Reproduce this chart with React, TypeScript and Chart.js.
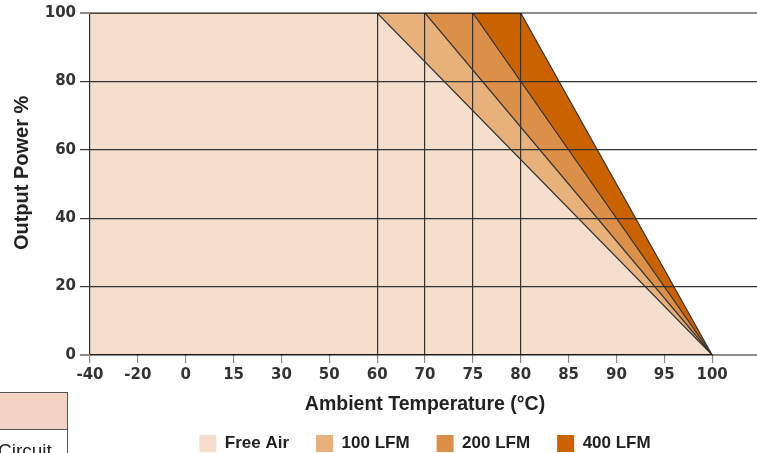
import React, { useEffect, useRef } from 'react';
import { Chart, registerables } from 'chart.js';

Chart.register(...registerables);

// ---- data ----
const categories = ['-40', '-20', '0', '15', '30', '50', '60', '70', '75', '80', '85', '90', '95', '100', ''];
const seriesNames = ['Free Air', '100 LFM', '200 LFM', '400 LFM'];
const freeAir = [{ x: '-40', y: 100 }, { x: '60', y: 100 }, { x: '100', y: 0 }];
const lfm100 = [{ x: '-40', y: 100 }, { x: '70', y: 100 }, { x: '100', y: 0 }];
const lfm200 = [{ x: '-40', y: 100 }, { x: '75', y: 100 }, { x: '100', y: 0 }];
const lfm400 = [{ x: '-40', y: 100 }, { x: '80', y: 100 }, { x: '100', y: 0 }];
const baseline = [{ x: '-40', y: 0 }, { x: '100', y: 0 }];
const markedTemps = ['-40', '60', '70', '75', '80'];
const yMin = 0;
const yMax = 100;
const yStep = 20;

const fillColors = ['#f5decc', '#e8b07a', '#db8f48', '#cb6200'];
const lineColor = '#333333';
const softLine = 'rgba(0,0,0,0.45)';

export default function App() {
  const canvasRef = useRef<HTMLCanvasElement | null>(null);

  useEffect(() => {
    const canvas = canvasRef.current;
    if (!canvas) return;
    const series = [freeAir, lfm100, lfm200, lfm400];
    const datasets: any[] = series.map((d, i) => ({
      label: seriesNames[i],
      data: d,
      backgroundColor: fillColors[i],
      borderColor: lineColor,
      borderWidth: 1.2,
      fill: 'origin',
      pointRadius: 0,
      tension: 0,
    }));
    datasets.push({
      label: '',
      data: baseline,
      borderColor: lineColor,
      borderWidth: 2,
      fill: false,
      pointRadius: 0,
      order: -1,
    });

    const chart = new Chart(canvas, {
      type: 'line',
      data: { labels: categories, datasets },
      options: {
        animation: false,
        responsive: false,
        devicePixelRatio: 1,
        layout: { padding: { left: 0, top: 12, right: 10, bottom: 0 } },
        plugins: {
          tooltip: { enabled: false },
          legend: {
            position: 'bottom',
            fullSize: false,
            labels: {
              boxWidth: 17,
              boxHeight: 17,
              padding: 27,
              color: '#222',
              font: { family: '"Liberation Sans", Arial, sans-serif', size: 17, weight: 'bold' },
              filter: (item: any) => item.text !== '',
              generateLabels: (c: any) =>
                Chart.defaults.plugins.legend.labels.generateLabels(c).map((it: any) => ({
                  ...it,
                  lineWidth: 0,
                  strokeStyle: 'rgba(0,0,0,0)',
                })),
            },
          },
        },
        scales: {
          x: {
            type: 'category',
            z: 1,
            offset: false,
            border: { display: false },
            grid: {
              z: 1,
              offset: false,
              color: (ctx: any) => (markedTemps.includes(categories[ctx.index]) ? lineColor : 'rgba(0,0,0,0)'),
              lineWidth: 1.2,
              tickColor: '#8a8a8a',
              tickLength: 8,
              drawTicks: true,
            },
            ticks: {
              autoSkip: false,
              maxRotation: 0,
              padding: 3,
              color: '#333',
              font: { family: '"DejaVu Sans", Verdana, sans-serif', size: 15, weight: 'bold' },
            },
            title: {
              display: true,
              text: 'Ambient Temperature (°C)',
              color: '#222',
              padding: { top: 0, bottom: -8.7 },
              font: { family: '"Liberation Sans", Arial, sans-serif', size: 19.5, weight: 'bold' },
            },
            afterFit: (scale: any) => {
              scale.height = 53;
            },
          },
          y: {
            z: 1,
            min: yMin,
            max: yMax,
            border: { display: false },
            grid: {
              z: 1,
              color: (ctx: any) => {
                const v = ctx.tick ? ctx.tick.value : null;
                return v === yMax || v === yMin ? softLine : lineColor;
              },
              lineWidth: (ctx: any) => {
                const v = ctx.tick ? ctx.tick.value : null;
                return v === yMax || v === yMin ? 2 : 1.2;
              },
              tickColor: (ctx: any) => {
                const v = ctx.tick ? ctx.tick.value : null;
                return v === yMax || v === yMin ? '#8a8a8a' : lineColor;
              },
              tickLength: 10,
            },
            ticks: {
              stepSize: yStep,
              padding: 4,
              color: '#333',
              font: { family: '"DejaVu Sans", Verdana, sans-serif', size: 15, weight: 'bold' },
            },
            title: {
              display: true,
              text: '    Output Power %',
              color: '#222',
              padding: { top: 10, bottom: 0 },
              font: { family: '"Liberation Sans", Arial, sans-serif', size: 20, weight: 'bold' },
            },
            afterFit: (scale: any) => {
              scale.width = 90;
            },
          },
        },
      },
    });
    return () => chart.destroy();
  }, []);

  return (
    <div
      style={{
        position: 'fixed',
        left: 0,
        top: 0,
        width: 757,
        height: 453,
        overflow: 'hidden',
        background: '#fff',
      }}
    >
      <canvas ref={canvasRef} width={770} height={462} style={{ position: 'absolute', left: 0, top: 0 }} />
      <div
        style={{
          position: 'absolute',
          left: -3,
          top: 392,
          width: 71,
          height: 80,
          border: '1px solid #555',
          boxSizing: 'border-box',
          fontFamily: '"Liberation Sans", Arial, sans-serif',
        }}
      >
        <div style={{ height: 36, background: '#f2d3c4', borderBottom: '1px solid #555' }} />
        <div style={{ fontSize: 19, color: '#222', paddingTop: 10, paddingLeft: 0, lineHeight: '22px' }}>Circuit</div>
      </div>
    </div>
  );
}
